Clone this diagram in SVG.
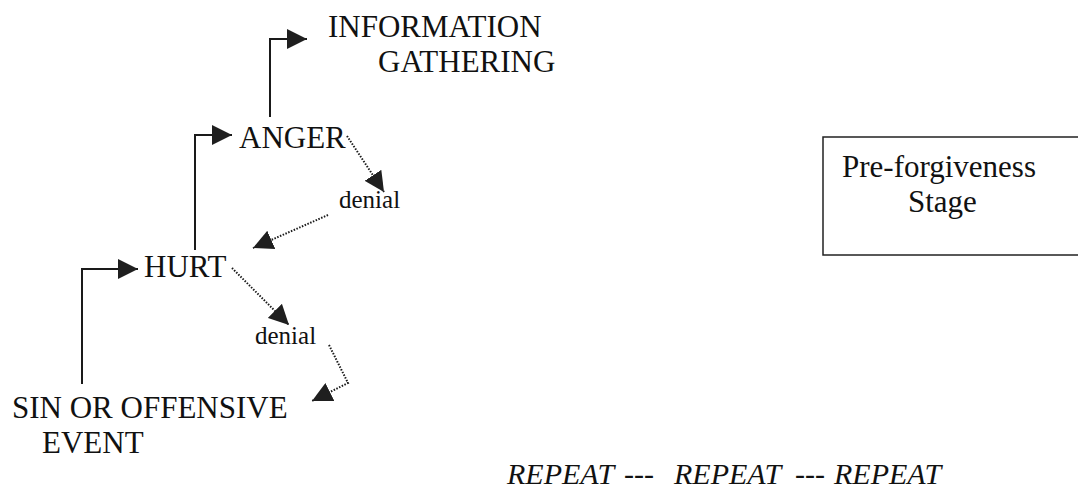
<svg xmlns="http://www.w3.org/2000/svg" width="1078" height="491" viewBox="0 0 1078 491">
  <style>
    text { font-family: 'Liberation Serif', 'Times New Roman', 'DejaVu Serif', serif; fill: #111; }
    .big { font-size: 31px; }
    .small { font-size: 25px; }
    .rep { font-size: 30px; font-style: italic; }
    .solid { fill: none; stroke: #1a1a1a; stroke-width: 2; }
    .dotted { fill: none; stroke: #1a1a1a; stroke-width: 2; stroke-dasharray: 1.5 1.5; }
  </style>
  <defs>
    <marker id="head" markerUnits="userSpaceOnUse" viewBox="0 0 20 20" refX="20" refY="10" markerWidth="20" markerHeight="20" orient="auto">
      <path d="M0,0 L20,10 L0,20 z" fill="#1f1f1f"/>
    </marker>
  </defs>

  <rect width="1078" height="491" fill="#fff"/>

  <!-- connectors: solid elbows lead up the chain, dotted ones fall back down -->
  <g id="connectors">
    <path class="solid" d="M82,384 V269 H138" marker-end="url(#head)"/>
    <path class="solid" d="M195,250 V135 H232" marker-end="url(#head)"/>
    <path class="solid" d="M270,117 V39 H307" marker-end="url(#head)"/>
    <path class="dotted" d="M347,136 L384,192" marker-end="url(#head)"/>
    <path class="dotted" d="M328,215 L253,248" marker-end="url(#head)"/>
    <path class="dotted" d="M232,268 L289,325" marker-end="url(#head)"/>
    <path class="dotted" d="M329,345 L348,383 L312,401" marker-end="url(#head)"/>
  </g>

  <g id="info">
    <text class="big" x="328" y="37">INFORMATION</text>
    <text class="big" x="378" y="72">GATHERING</text>
  </g>
  <g id="anger">
    <text class="big" x="239" y="148">ANGER</text>
  </g>
  <g id="denial-upper">
    <text class="small" x="339" y="208">denial</text>
  </g>
  <g id="hurt">
    <text class="big" x="144" y="277">HURT</text>
  </g>
  <g id="denial-lower">
    <text class="small" x="255" y="344">denial</text>
  </g>
  <g id="sin">
    <text class="big" x="12" y="418">SIN OR OFFENSIVE</text>
    <text class="big" x="42" y="453">EVENT</text>
  </g>

  <g id="stage">
    <rect x="823" y="137" width="270" height="118" fill="none" stroke="#222" stroke-width="1.5"/>
    <text class="big" x="842" y="177">Pre-forgiveness</text>
    <text class="big" x="908" y="212">Stage</text>
  </g>

  <g id="repeat">
    <text class="rep" y="484"><tspan x="507">REPEAT</tspan><tspan x="624">---</tspan><tspan x="674">REPEAT</tspan><tspan x="795">---</tspan><tspan x="834">REPEAT</tspan></text>
  </g>
</svg>
